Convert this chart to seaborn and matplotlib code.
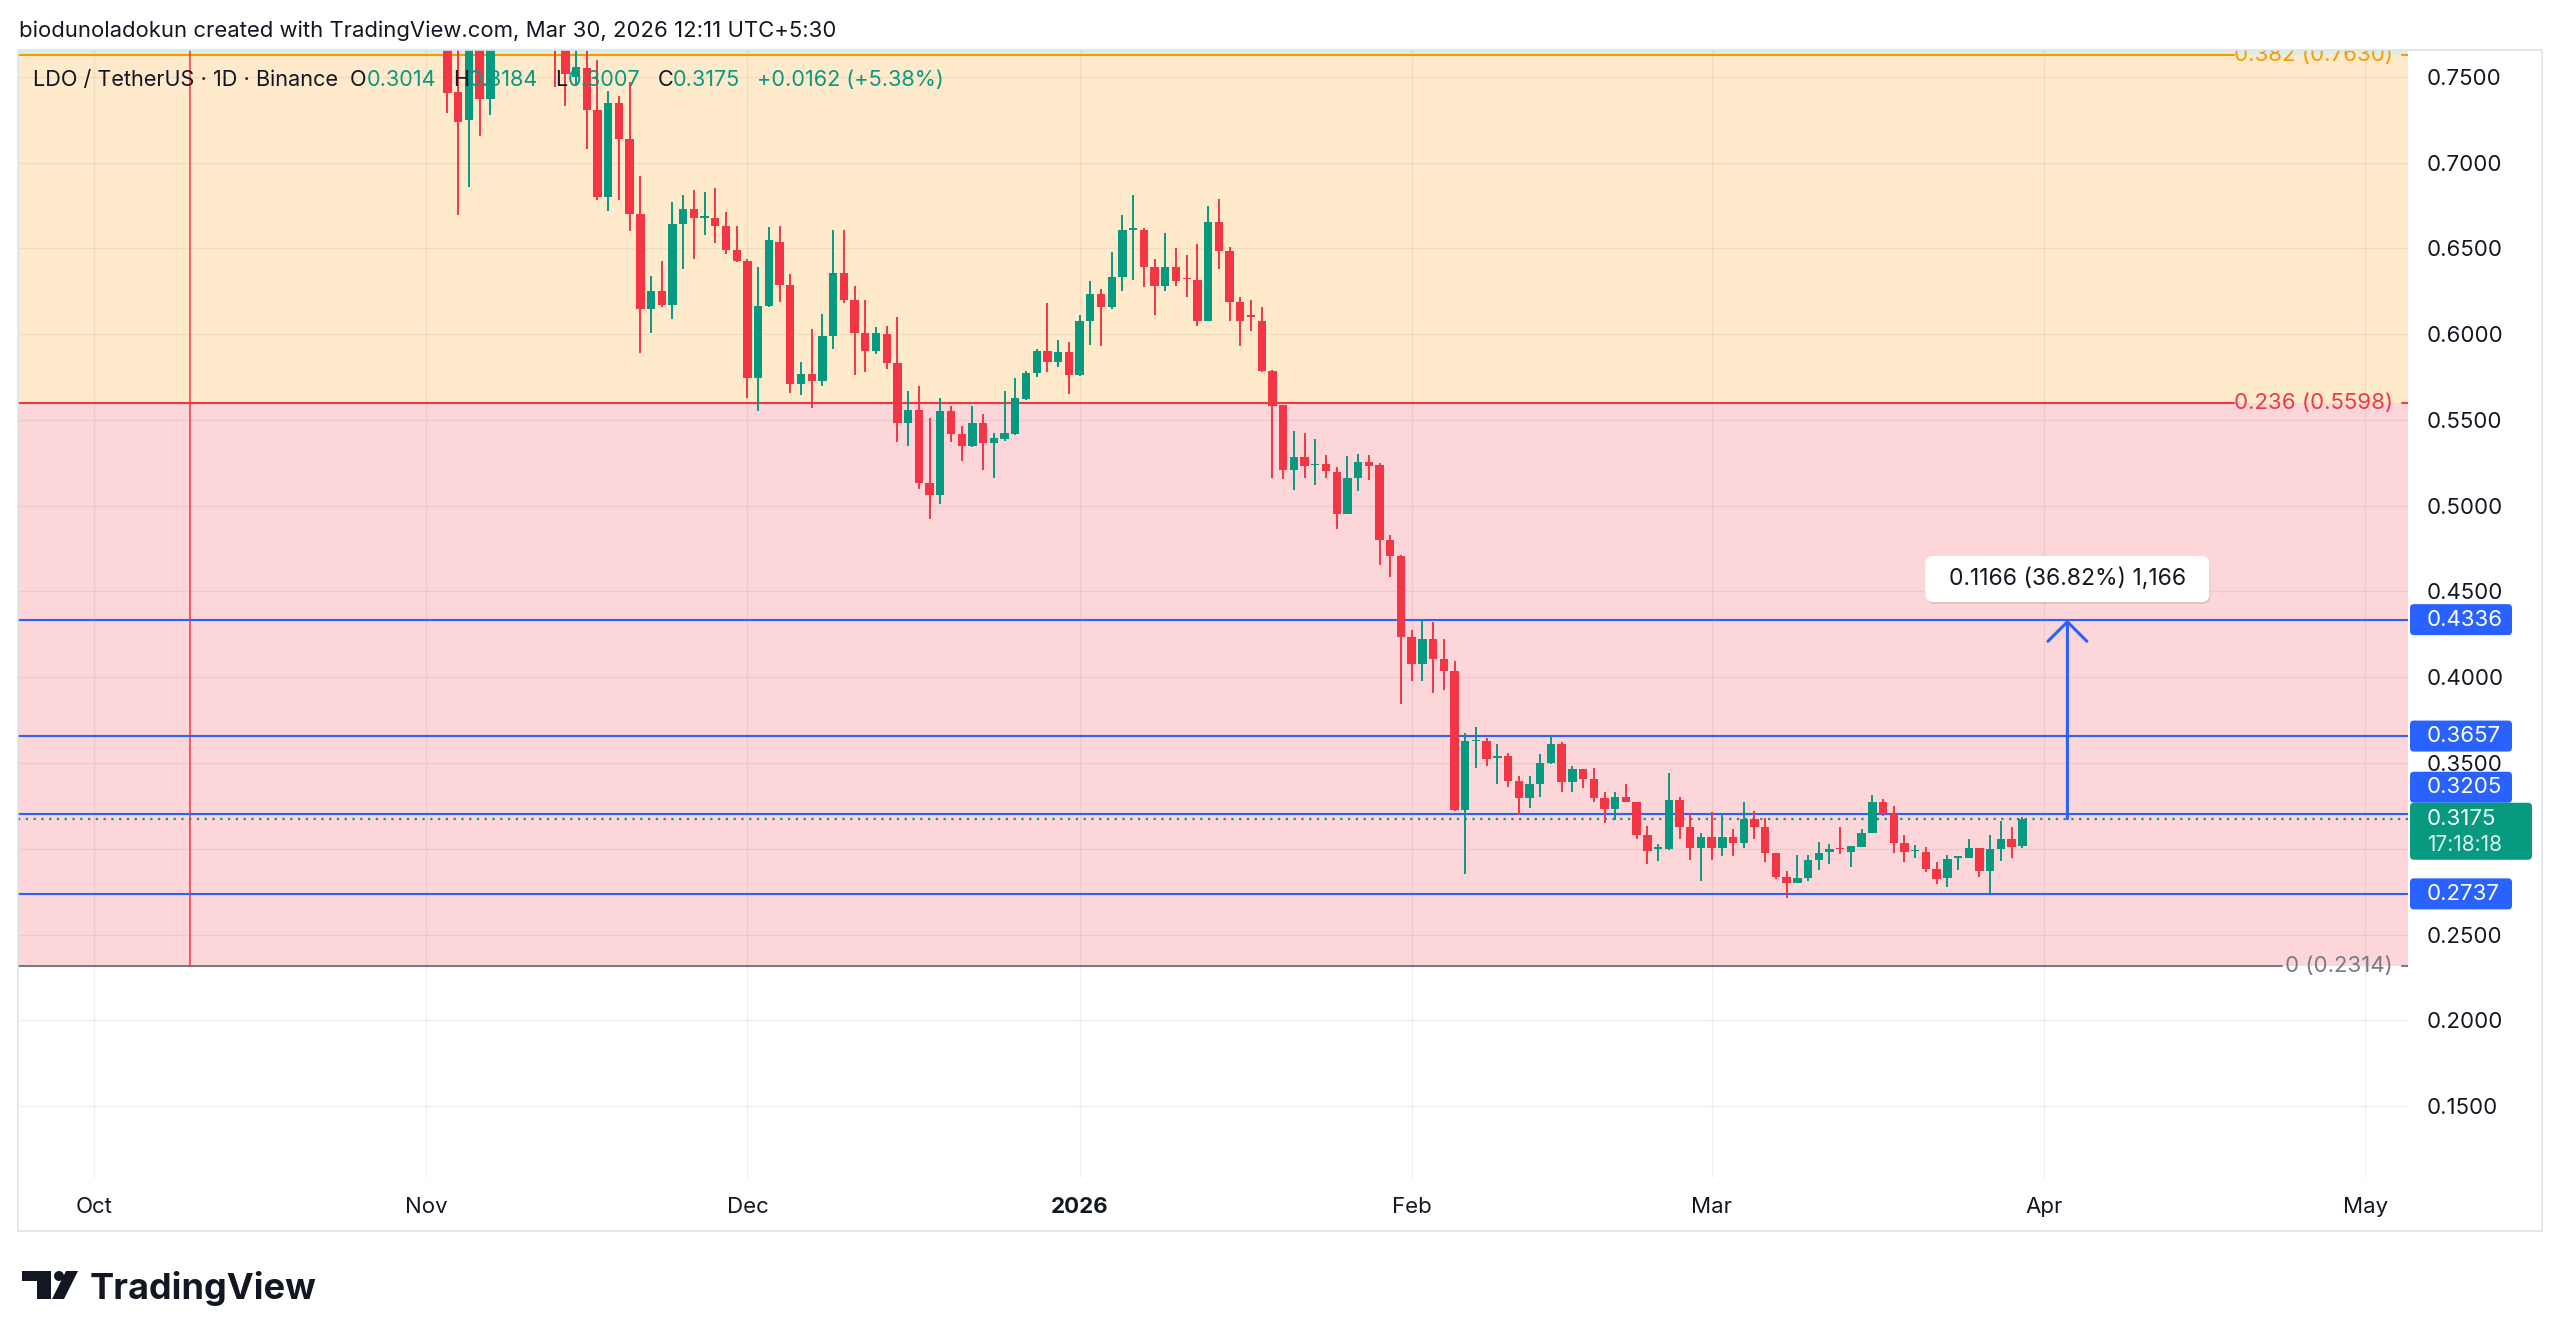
import numpy as np
import pandas as pd
import matplotlib
matplotlib.use("Agg")
import matplotlib.pyplot as plt
import matplotlib.dates as mdates
from matplotlib.patches import FancyBboxPatch, Rectangle, Polygon, Circle
from matplotlib.transforms import IdentityTransform
import seaborn as sns

# LDO / USDT daily candles, 2025-11-03 .. 2026-03-30 (None = above the visible range)
START = "2025-11-03"
OPEN = [
    .800, .741, .725, .790, .737, None, None, None, None, None, .810, .780, .750, .755, .731, .680, .735, .714, .670, .615, .625, .617, .664, .673, .668, .668, .663, .649,  # nov
    .643, .5745, .6165, .654, .629, .571, .577, .5727, .599, .636, .620, .601, .590, .600, .583, .548, .556, .513, .506, .555, .542, .535, .548, .5365, .539, .542, .562, .5775, .590, .5838, .5897,  # dec
    .5762, .6077, .6235, .616, .6334, .661, .661, .639, .628, .639, .6328, .6317, .6077, .6653, .6485, .6188, .611, .6077, .5786, .5587, .5208, .5284, .5238, .5243, .5197, .4952, .5162, .5255, .5238, .480, .4707,  # jan
    .4235, .4077, .4223, .4106, .4036, .3226, .3628, .3628, .3530, .354, .3395, .3296, .3378, .350, .361, .3389, .3465, .3407, .3296, .3232, .3302, .3273, .308, .2998, .2998, .3284, .3127, .3004,  # feb
    .3069, .3004, .3069, .3033, .3174, .3127, .2975, .2835, .2800, .2830, .2934, .2981, .3004, .2981, .3010, .3092, .3273, .3203, .3033, .2984, .2981, .2882, .2830, .2946, .2946, .3004, .2870, .2998, .3057, .3014,  # mar
]
HIGH = [
    .820, .780, .810, .800, .820, None, None, None, None, None, .830, .790, .770, .775, .760, .742, .739, .747, .692, .634, .643, .677, .681, .684, .683, .685, .671, .663,
    .644, .639, .6625, .663, .635, .584, .603, .612, .661, .661, .628, .620, .604, .605, .610, .567, .570, .551, .563, .558, .5465, .558, .5535, .5425, .567, .5745, .5785, .5914, .618, .5967, .5955,
    .611, .631, .6264, .648, .6695, .681, .662, .644, .659, .650, .646, .6526, .675, .679, .651, .6217, .620, .616, .579, .559, .5436, .5424, .539, .5297, .5226, .529, .530, .5296, .525, .4828, .471,
    .4275, .434, .432, .4223, .4095, .3675, .371, .3646, .361, .356, .3424, .3424, .3553, .3657, .3622, .3483, .3467, .3471, .333, .333, .3378, .3275, .3133, .3028, .3442, .3302, .3203, .3092,
    .3214, .3203, .3115, .3273, .3220, .3180, .2978, .287, .2964, .2964, .3039, .3028, .3127, .3018, .3115, .3313, .329, .3249, .308, .3022, .3010, .2923, .2964, .2960, .3057, .3006, .308, .3162, .3127, .3184,
]
LOW = [
    .729, .6695, .686, .7156, .728, None, None, None, None, None, .744, .733, .745, .708, .678, .672, .678, .660, .589, .601, .616, .609, .638, .644, .658, .653, .647, .642,
    .563, .555, .616, .619, .566, .5646, .557, .570, .5914, .618, .576, .578, .5885, .580, .537, .535, .510, .492, .501, .537, .526, .534, .521, .516, .538, .541, .5617, .575, .578, .581, .565,
    .5757, .5936, .593, .615, .625, .6316, .6276, .611, .625, .628, .622, .605, .6075, .638, .608, .593, .602, .578, .516, .5156, .509, .5162, .512, .516, .4864, .495, .5086, .515, .4655, .4585, .3844,
    .3978, .3978, .391, .3926, .322, .2853, .347, .348, .338, .336, .3197, .3238, .3302, .3495, .333, .333, .3354, .3273, .315, .3168, .3270, .3057, .2911, .2929, .2995, .3057, .2934, .2812,
    .2934, .2958, .2958, .3004, .3057, .2923, .2823, .2713, .2798, .2812, .2876, .2911, .2969, .2893, .3008, .3090, .3191, .2975, .2923, .2946, .2864, .2794, .2777, .2876, .2944, .2835, .2742, .2929, .2946, .3007,
]
CLOSE = [
    .7407, .724, .790, .737, .800, None, None, None, None, None, .780, .752, .756, .731, .680, .735, .714, .670, .615, .625, .617, .664, .673, .668, .6685, .663, .649, .643,
    .5745, .6165, .655, .629, .571, .577, .5727, .599, .636, .620, .601, .590, .601, .583, .548, .556, .513, .506, .555, .542, .535, .548, .5365, .5395, .5425, .563, .5775, .590, .5838, .5897, .5762,
    .6077, .6235, .616, .6334, .6608, .662, .639, .628, .639, .631, .632, .6077, .6653, .6485, .6188, .6077, .610, .5786, .558, .5208, .5284, .523, .5245, .520, .4952, .5162, .5255, .523, .480, .4707, .4235,
    .4077, .4223, .4106, .4036, .3226, .3628, .3636, .3523, .3538, .3395, .3296, .3378, .350, .361, .3389, .3465, .3407, .3296, .3232, .3302, .3273, .308, .2987, .3008, .3284, .3127, .3004, .3069,
    .3004, .3069, .3033, .3174, .3127, .2975, .2835, .2800, .2830, .2934, .2975, .2998, .2998, .3016, .3092, .3273, .3203, .3033, .2981, .2990, .2882, .2824, .2940, .2958, .3004, .2870, .2998, .3057, .3010, .3175,
]

PRICE_TICKS = [0.15, 0.20, 0.25, 0.30, 0.35, 0.40, 0.45, 0.50, 0.55, 0.60, 0.65, 0.70, 0.75]
MONTHS = ["2025-10-01", "2025-11-01", "2025-12-01", "2026-01-01", "2026-02-01", "2026-03-01", "2026-04-01", "2026-05-01"]
MONTH_LABELS = ["Oct", "Nov", "Dec", "2026", "Feb", "Mar", "Apr", "May"]

FIB_VALUES = [0.7630, 0.5598, 0.2314]
FIB_NAMES = ["0.382", "0.236", "0"]
FIB_COLORS = ["#FF9800", "#F23645", "#787B86"]
LEVELS = [0.4336, 0.3657, 0.3205, 0.2737]
LAST = 0.3175
MEASURE = "0.1166 (36.82%) 1,166"
MARK_DAY = "2025-10-10"
ARROW_DAY = "2026-04-03 05:00"

UP, DOWN, BLUE, INK = "#089981", "#F23645", "#2962FF", "#131722"

sns.set_theme(style="white")
plt.rcParams["font.family"] = ["Inter", "DejaVu Sans"]

W, H = 2560, 1342
fig = plt.figure(figsize=(W / 100, H / 100), dpi=100)
fig.patch.set_facecolor("white")


def fx(x):
    return x / W


def fy(y):
    return 1 - y / H


ax = fig.add_axes([fx(18), fy(1178), (2408 - 18) / W, (1178 - 50) / H])
ax.set_facecolor("white")
for s in ax.spines.values():
    s.set_visible(False)

ref = mdates.date2num(pd.Timestamp("2025-10-01"))
ax.set_xlim(ref - 7.09, ref + 216.0)
ax.set_ylim(0.10802, 0.76574)


def afrac(px):
    return (px - 18) / (2408 - 18)


def py(p):
    return H - ax.transData.transform((0, p))[1]


# fib zones
ax.axhspan(FIB_VALUES[0], 0.80, color="#4CAF50", alpha=0.2, lw=0, zorder=0)
ax.axhspan(FIB_VALUES[1], FIB_VALUES[0], color=FIB_COLORS[0], alpha=0.2, lw=0, zorder=0)
ax.axhspan(FIB_VALUES[2], FIB_VALUES[1], color=FIB_COLORS[1], alpha=0.2, lw=0, zorder=0)

# grid
month_x = mdates.date2num(pd.to_datetime(MONTHS))
for v in PRICE_TICKS:
    ax.axhline(v, color="black", alpha=0.055, lw=1.0, zorder=1)
for v in month_x:
    ax.axvline(v, color="black", alpha=0.055, lw=1.0, zorder=1)

# fib lines + labels
for v, name, col in zip(FIB_VALUES, FIB_NAMES, FIB_COLORS):
    end = 2282 if name == "0" else 2234
    ax.axhline(v, xmin=0, xmax=afrac(end), color=col, lw=1.5, zorder=2)
    ax.axhline(v, xmin=afrac(2402), xmax=1, color=col, lw=1.5, zorder=2)
    ax.text(afrac(2393), v, f"{name} ({v:.4f})", transform=ax.get_yaxis_transform(),
            ha="right", va="center", color=col, fontsize=16, zorder=2, clip_on=True)

# vertical marker
mx = mdates.date2num(pd.Timestamp(MARK_DAY))
ax.plot([mx, mx], [FIB_VALUES[2], 0.80], color=DOWN, lw=1.1, zorder=2)

# horizontal levels
for v in LEVELS:
    ax.axhline(v, color=BLUE, lw=1.5, zorder=2)
ax.axhline(LAST, color=UP, lw=1.6, ls=(0, (1, 2.5)), zorder=2)

# candles
dates = pd.date_range(START, periods=len(OPEN), freq="D")
xs = mdates.date2num(dates)
o = np.array(OPEN, dtype=float)
h = np.array(HIGH, dtype=float)
l = np.array(LOW, dtype=float)
c = np.array(CLOSE, dtype=float)
cols = np.where(c >= o, UP, DOWN)
ax.vlines(xs, l, h, colors=cols, lw=1.4, zorder=4)
ax.bar(xs, np.maximum(np.abs(c - o), 0.0007), bottom=np.minimum(o, c), width=0.78,
       color=cols, lw=0, zorder=5)

# measurement arrow
xa = mdates.date2num(pd.Timestamp(ARROW_DAY))
ax.annotate("", xy=(xa, LEVELS[0]), xytext=(xa, LAST),
            arrowprops=dict(arrowstyle="->,head_length=0.52,head_width=0.52", color=BLUE,
                            lw=2.2, shrinkA=0, shrinkB=0, mutation_scale=27), zorder=6)

# axes ticks
ax.yaxis.tick_right()
ax.set_yticks(PRICE_TICKS)
ax.set_yticklabels(["" if abs(v - 0.30) < 1e-9 else f"{v:.4f}" for v in PRICE_TICKS])
ax.tick_params(axis="y", length=0, pad=13.7, labelsize=16, labelcolor=INK)
ax.set_xticks(month_x)
ax.set_xticklabels(MONTH_LABELS)
ax.tick_params(axis="x", length=0, pad=14, labelsize=16, labelcolor=INK)
ax.get_xticklabels()[3].set_fontweight("bold")

# outer frame
fig.add_artist(Rectangle((fx(18), fy(1231)), (2542 - 18) / W, (1231 - 50) / H,
                         transform=fig.transFigure, fill=False, ec="#E0E3EB", lw=1.2))


def pbox(x0, y0, x1, y1, fc, r=4, z=8):
    b = FancyBboxPatch((x0, H - y1), x1 - x0, y1 - y0, boxstyle=f"round,pad=0,rounding_size={r}",
                       fc=fc, ec="none", transform=IdentityTransform(), zorder=z)
    fig.add_artist(b)


# price labels for levels
green_top = py(LAST) - 16
for v in LEVELS:
    yc = py(v)
    if abs(v - 0.3205) < 1e-9:
        yc = green_top - 15.5
    pbox(2410, yc - 15.5, 2512, yc + 15.5, BLUE)
    fig.text(fx(2427), fy(yc), f"{v:.4f}", color="white", fontsize=16, va="center", ha="left", zorder=9)
pbox(2410, green_top, 2532, green_top + 57, UP)
fig.text(fx(2427), fy(green_top + 16), f"{LAST:.4f}", color="white", fontsize=16, va="center", zorder=9)
fig.text(fx(2427), fy(green_top + 42), "17:18:18", color="#DDF2EC", fontsize=15, va="center", zorder=9)

# measurement label
mxp = ax.transData.transform((xa, 0))[0]
pbox(mxp - 142 + 1, 556 + 2, mxp + 142 + 1, 602 + 2, "#00000018", r=8, z=7)
pbox(mxp - 142, 556, mxp + 142, 602, "white", r=8, z=8)
fig.text(fx(mxp), fy(579), MEASURE, color=INK, fontsize=16.5, ha="center", va="center", zorder=9)

# header + legend
fig.text(fx(19), fy(31), "biodunoladokun created with TradingView.com, Mar 30, 2026 12:11 UTC+5:30",
         fontsize=15.9, color=INK, va="center")
r = fig.canvas.get_renderer()
pieces = [("LDO / TetherUS · 1D · Binance", INK, 12), ("O", INK, 0), ("0.3014", UP, 17),
          ("H", INK, 0), ("0.3184", UP, 17), ("L", INK, 0), ("0.3007", UP, 17),
          ("C", INK, 0), ("0.3175", UP, 17), ("+0.0162 (+5.38%)", UP, 0)]
xp = 33
for s, col, gap in pieces:
    t = fig.text(fx(xp), fy(80), s, fontsize=15.6, color=col, va="center", zorder=3)
    xp += t.get_window_extent(renderer=r).width + gap

# TradingView logo
k = "#131722"
fig.add_artist(Polygon([(22, H - 1271), (51, H - 1271), (51, H - 1299), (37, H - 1299), (37, H - 1281), (22, H - 1281)],
                       closed=True, fc=k, ec="none", transform=IdentityTransform()))
fig.add_artist(Circle((59, H - 1276), 5, fc=k, ec="none", transform=IdentityTransform()))
fig.add_artist(Polygon([(66, H - 1271), (78, H - 1271), (64, H - 1299), (52, H - 1299)],
                       closed=True, fc=k, ec="none", transform=IdentityTransform()))
fig.text(fx(90), fy(1299), "TradingView", fontsize=26, fontweight="bold", color=k, va="baseline")

fig.savefig("out.png", dpi=100, facecolor="white")
